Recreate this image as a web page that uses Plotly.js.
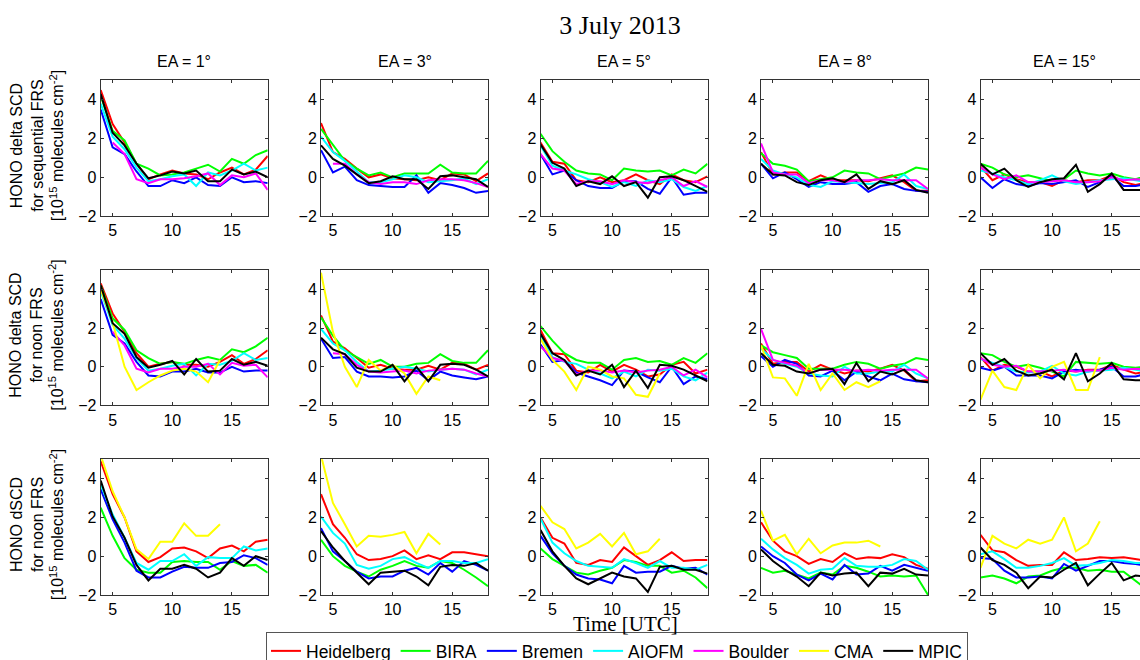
<!DOCTYPE html>
<html>
<head>
<meta charset="utf-8">
<script src="https://cdn.plot.ly/plotly-3.0.1.min.js"></script>
<style>
html,body{margin:0;padding:0;overflow:hidden;background:#fff;}
#chart{width:1150px;height:670px;}
</style>
</head>
<body>
<div id="chart"></div>
<script>
// ---------------- DATA ----------------
const HOURS = [4,5,6,7,8,9,10,11,12,13,14,15,16,17,18];
const XTICKS = [5,10,15];
const YTICKS = [-2,0,2,4];
const COLUMN_TITLES = ['EA = 1°','EA = 3°','EA = 5°','EA = 8°','EA = 15°'];
const ROW_TITLES = [
  'HONO delta SCD<br>for sequential FRS<br>[10<sup>15</sup> molecules cm<sup>-2</sup>]',
  'HONO delta SCD<br>for noon FRS<br>[10<sup>15</sup> molecules cm<sup>-2</sup>]',
  'HONO dSCD<br>for noon FRS<br>[10<sup>15</sup> molecules cm<sup>-2</sup>]'
];
const SERIES_NAMES = ['Heidelberg','BIRA','Bremen','AIOFM','Boulder','CMA','MPIC'];
const SERIES_COLORS = ['#ff0000','#00ff00','#0000ff','#00ffff','#ff00ff','#ffff00','#000000'];

// Row 1: HONO delta SCD for sequential FRS (one list per elevation angle)
const HEIDELBERG_SEQ = [
  [4.5,2.75,1.8,0.7,-0.1,0.15,0.35,0.2,0.15,-0.1,0.25,0.5,0.15,0.4,1.1],
  [2.8,1.3,0.95,0.45,0,0.15,-0.05,-0.1,-0.15,0,-0.15,0.2,0.15,-0.2,0.2],
  [1.8,0.8,0.7,-0.15,-0.25,0,-0.25,-0.15,0.15,-0.15,-0.35,0.15,-0.15,-0.25,0.05],
  [1.3,0.15,0.25,0.25,-0.2,0.1,-0.15,-0.15,-0.15,-0.2,-0.05,0.1,-0.25,-0.7,-0.7],
  [0.55,-0.15,0.15,-0.1,-0.25,-0.25,-0.45,-0.15,-0.25,-0.15,-0.15,0.1,-0.25,-0.4,-0.25]
];
const BIRA_SEQ = [
  [4.2,2.4,1.9,0.7,0.45,0.1,0.15,0.25,0.45,0.65,0.3,0.95,0.7,1.15,1.4],
  [2.5,1.65,0.85,0.45,0.1,0.25,0,0.2,0.2,0.2,0.65,0.25,0.2,0.2,0.85],
  [2.25,1.35,0.8,0.35,0.2,0.15,-0.15,0.45,0.35,0.3,0.35,0.1,0.4,0.2,0.7],
  [1.25,0.7,0.6,0.4,-0.2,-0.1,0,0.35,0.25,0.2,-0.1,0.05,0.2,0.5,0.4],
  [0.7,0.5,0.15,0,0.1,-0.05,-0.2,-0.1,0.35,0.2,0.1,0.2,0,-0.1,0.1]
];
const BREMEN_SEQ = [
  [3.5,1.55,1.2,0.3,-0.45,-0.45,-0.15,-0.3,0,-0.4,-0.45,0,-0.25,-0.2,-0.3],
  [1.4,0.25,0.55,-0.15,-0.4,-0.45,-0.5,-0.5,0.1,-0.8,-0.3,-0.4,-0.55,-0.8,-0.7],
  [1.2,0.15,0.35,-0.15,-0.45,-0.55,-0.55,-0.2,-0.2,-0.6,-0.85,0,-0.9,-0.8,-0.8],
  [0.7,-0.05,0.25,-0.1,-0.5,-0.25,-0.35,-0.35,-0.25,-0.75,-0.45,-0.35,-0.6,-0.7,-0.75],
  [0,-0.55,-0.1,-0.35,-0.45,-0.3,-0.35,-0.25,-0.15,-0.5,-0.25,0.05,-0.45,-0.45,-0.35]
];
const AIOFM_SEQ = [
  [3.8,2.1,1.45,0.5,-0.2,-0.1,0.05,0.15,-0.45,0.25,0.1,0.35,0.7,0.35,0.5],
  [2.1,1.3,0.85,0.3,-0.25,-0.25,-0.1,0.1,0,-0.25,-0.2,-0.15,-0.05,-0.35,-0.1],
  [1.65,0.6,0.35,0.15,-0.1,-0.25,-0.5,-0.25,-0.45,-0.15,-0.25,-0.1,-0.5,-0.7,-0.45],
  [0.95,0.35,0.15,0,-0.4,-0.5,-0.2,-0.25,-0.3,-0.35,-0.3,-0.25,0.15,-0.45,-0.6],
  [0.35,0.2,0,-0.15,-0.35,-0.15,0.1,-0.2,-0.35,-0.25,-0.15,-0.1,-0.05,-0.15,-0.25]
];
const BOULDER_SEQ = [
  [null,1.8,1.2,-0.1,-0.3,-0.1,-0.1,-0.05,0.05,0.2,-0.4,0.1,0,0.2,-0.65],
  [null,0.7,0.7,0.15,-0.25,-0.35,-0.25,-0.25,-0.35,-0.15,-0.1,-0.1,-0.15,-0.3,-0.5],
  [1.2,0.45,0.35,-0.35,-0.2,-0.2,-0.35,-0.15,-0.25,-0.3,-0.15,0,-0.45,-0.2,-0.5],
  [1.75,0.25,0.15,0.15,-0.3,-0.15,-0.15,-0.25,-0.15,-0.15,-0.1,-0.15,-0.15,-0.15,-0.6],
  [0.5,0.15,-0.1,0.1,-0.25,-0.25,-0.2,-0.15,-0.25,-0.25,-0.2,0,-0.15,-0.1,-0.15]
];
const MPIC_SEQ = [
  [4.3,2.3,1.65,0.7,-0.05,0.1,0.3,0.2,0.35,-0.2,-0.2,0.4,0.15,0.3,0],
  [1.65,0.95,0.6,0.15,-0.3,-0.2,0.05,-0.1,-0.1,-0.6,0.05,0.1,0,-0.1,-0.5],
  [1.7,0.75,0.45,-0.45,-0.2,-0.35,0.05,-0.45,-0.25,-1.05,0,0.05,-0.15,-0.45,-0.75],
  [0.7,0.15,0.1,-0.25,-0.4,-0.15,-0.05,-0.25,0.15,-0.6,-0.2,-0.35,-0.15,-0.65,-0.8],
  [0.7,0.15,0.45,-0.15,-0.5,-0.25,-0.1,-0.05,0.65,-0.75,-0.35,0.2,-0.65,-0.65,-0.65]
];

// Row 2: HONO delta SCD for noon FRS
const HEIDELBERG_NOON = [
  [4.3,2.75,1.8,0.7,0,0.15,0.25,0.1,0.1,0,0.25,0.6,0.15,0.4,0.85],
  [2.65,1.3,0.95,0.45,-0.05,0.1,-0.1,-0.15,-0.15,0.05,-0.15,0.2,0.15,-0.15,0.1],
  [1.9,0.7,0.65,-0.2,-0.3,0.1,-0.25,0.1,-0.15,-0.5,-0.4,0.1,0.25,-0.35,-0.15],
  [1.2,0.15,0.25,0.25,-0.25,0.1,-0.15,-0.35,-0.2,-0.25,-0.1,0.1,-0.2,-0.75,-0.7],
  [0.5,-0.2,0.1,0,-0.25,-0.25,-0.5,-0.2,-0.25,-0.15,-0.15,0.1,-0.15,-0.35,-0.25]
];
const BIRA_NOON = [
  [4.2,2.5,1.9,0.85,0.45,0.15,0.25,0.15,0.35,0.5,0.35,0.9,0.75,1.05,1.5],
  [2.55,1.6,0.85,0.5,0.15,0.35,0,0,0.15,0.2,0.65,0.3,0.2,0.2,0.85],
  [2.1,1.35,0.7,0.35,0.2,0.2,-0.15,0.35,0.45,0.25,0.3,0.1,0.45,0.2,0.7],
  [1.1,0.75,0.6,0.45,-0.1,-0.1,-0.1,0.1,0.25,0.15,-0.1,0.05,0.15,0.45,0.35],
  [0.7,0.6,0.25,0,0.1,-0.05,-0.25,-0.5,0.25,0.2,0.15,0.2,0,-0.05,0]
];
const BREMEN_NOON = [
  [3.5,1.65,1.2,0.25,-0.45,-0.5,-0.25,-0.25,-0.1,-0.3,-0.3,0,-0.25,-0.2,-0.2],
  [1.45,0.45,0.5,-0.25,-0.5,-0.5,-0.55,-0.5,-0.2,-0.7,-0.25,-0.45,-0.55,-0.65,-0.5],
  [1.15,0.25,0.35,-0.3,-0.5,-0.7,-0.95,-0.2,-0.25,-0.55,-0.8,0,-0.9,-0.5,-0.65],
  [0.55,0,0.35,0.15,-0.45,-0.5,-0.2,-0.7,-0.25,-0.5,-0.7,-0.35,-0.65,-0.75,-0.8],
  [-0.05,-0.2,0,-0.45,-0.45,-0.45,-0.6,-0.25,-0.15,-0.25,-0.15,0,-0.5,-0.5,-0.35]
];
const AIOFM_NOON = [
  [3.9,2.15,1.45,0.45,-0.2,-0.1,0.05,0.15,-0.45,0.15,0.1,0.3,0.7,0.35,0.45],
  [1.95,1.2,0.85,0.25,-0.25,-0.2,-0.1,0,-0.1,-0.25,-0.15,-0.1,-0.15,-0.4,-0.15],
  [1.65,0.5,0.25,0.15,-0.15,-0.35,-0.6,-0.25,-0.5,-0.15,-0.2,-0.1,-0.5,-0.7,-0.3],
  [0.95,0.35,0.15,0,-0.35,-0.45,-0.5,0,-0.35,-0.35,-0.25,-0.25,0.1,-0.35,-0.6],
  [0.4,0.2,0,-0.25,-0.3,-0.25,0.05,-0.35,-0.45,-0.25,-0.2,-0.15,-0.05,-0.15,-0.25]
];
const BOULDER_NOON = [
  [null,1.8,1.1,-0.1,-0.3,-0.1,-0.1,0,0,0.15,-0.4,0.2,0.05,0.1,-0.55],
  [null,0.7,0.65,0.1,-0.25,-0.3,-0.25,-0.2,-0.35,-0.2,-0.15,-0.1,-0.15,-0.35,-0.5],
  [1.05,0.45,0.3,-0.4,-0.2,-0.2,-0.3,-0.2,-0.3,-0.2,-0.15,0,-0.45,-0.15,-0.55],
  [1.95,0.35,0.2,0.05,-0.35,-0.15,-0.15,-0.15,-0.2,-0.15,-0.2,-0.15,-0.15,-0.15,-0.6],
  [0.45,0.1,0,0.05,-0.25,-0.25,-0.2,-0.15,-0.25,-0.2,-0.2,-0.05,-0.15,-0.1,-0.15]
];
const CMA_NOON = [
  [4.0,2.3,0,-1.2,-0.8,-0.45,-0.2,-0.1,-0.25,-0.8,0.35],
  [4.85,1.8,0,-1.05,0.35,-0.2,0.1,-0.35,-1.4,-0.5,-0.7],
  [1.45,0.35,-0.25,-1.2,0,-0.15,-0.5,-0.6,-1.45,-1.55,-0.35],
  [1.1,-0.55,-0.6,-1.5,0.15,-1.2,-0.35,-1.2,-0.8,-1.05,-0.75],
  [-1.7,-0.2,-1.05,-1.2,0.1,-0.6,0,0.25,-1.2,-1.2,0.5]
];
const MPIC_NOON = [
  [4.2,2.25,1.7,0.5,-0.05,0.1,0.3,-0.4,0.4,-0.25,-0.2,0.4,0.1,0.25,0.05],
  [1.5,0.9,0.65,-0.05,-0.25,-0.25,0.1,-0.75,0,-0.75,0.1,0.15,0.1,-0.15,-0.5],
  [1.7,0.7,0.35,-0.45,-0.2,-0.4,0.1,-1.05,-0.2,-1.1,0.1,0.05,-0.15,-0.45,-0.75],
  [0.7,0.1,0.05,-0.25,-0.35,-0.15,-0.1,-0.9,0.2,-0.75,-0.25,-0.4,-0.15,-0.7,-0.8],
  [0.7,0.1,0.4,-0.2,-0.45,-0.35,-0.15,-0.65,0.7,-0.75,-0.35,0.2,-0.65,-0.7,-0.7]
];

// Row 3: HONO dSCD for noon FRS
const HEIDELBERG_DSCD = [
  [4.9,3.2,2.0,0.25,-0.3,-0.05,0.4,0.45,0.25,-0.1,0.4,0.55,0.25,0.75,0.85],
  [3.2,1.65,0.95,0.1,-0.2,-0.15,0,0.3,-0.15,0.05,-0.15,0.2,0.2,0.1,0],
  [2.0,0.95,0.65,-0.35,-0.45,-0.2,-0.3,0.45,0,-0.45,-0.2,0.2,-0.25,-0.2,-0.2],
  [1.75,0.8,0.25,0,-0.4,-0.15,-0.3,0.15,-0.15,-0.05,-0.1,0.1,-0.05,-0.45,-0.65],
  [1.1,0.3,0.2,-0.2,-0.5,-0.45,-0.45,0.2,-0.2,-0.15,-0.05,-0.1,-0.05,-0.15,-0.25]
];
const BIRA_DSCD = [
  [2.5,1.05,-0.1,-0.7,-0.85,-0.85,-0.3,-0.25,-0.3,-0.3,-0.7,-0.25,-0.5,-0.45,-0.85],
  [0.85,0,-0.5,-0.8,-1.05,-0.7,-0.5,-0.25,-0.5,-0.6,-0.25,-0.35,-0.7,-1.1,-1.55],
  [0.4,-0.15,-0.5,-0.85,-0.95,-0.75,-0.6,-0.2,-0.3,-0.5,-0.5,-0.85,-0.75,-1.1,-1.65],
  [-0.6,-0.85,-0.75,-0.95,-1.15,-0.85,-0.95,-0.5,-0.6,-0.8,-1.05,-1.0,-1.05,-1.0,-2.0],
  [-1.1,-1.0,-1.15,-1.4,-1.05,-1.0,-0.75,-0.6,-0.6,-0.75,-0.7,-0.8,-0.8,-1.3,-1.75]
];
const BREMEN_DSCD = [
  [3.45,1.9,0.7,-0.75,-1.1,-1.1,-0.8,-0.55,-0.6,-0.6,-0.35,-0.3,0.05,-0.1,-0.45],
  [1.45,0.25,-0.25,-0.8,-1.15,-1.05,-1.05,-0.75,-0.6,-0.95,-0.35,-0.8,-0.25,-0.45,-0.75],
  [1.05,0.15,-0.5,-0.95,-1.15,-1.2,-1.4,-0.5,-0.85,-0.8,-0.8,-0.5,-0.65,-0.6,-0.95],
  [0.5,0,-0.35,-0.95,-1.25,-0.9,-1.2,-0.45,-0.95,-0.9,-0.5,-0.75,-0.45,-0.6,-0.75],
  [-0.1,-0.15,-0.75,-1.1,-1.1,-1.05,-1.15,-0.4,-0.75,-0.5,-0.25,-0.25,-0.35,-0.4,-0.5]
];
const AIOFM_DSCD = [
  [3.7,2.15,0.95,-0.35,-0.7,-0.25,-0.25,0.1,-0.5,-0.05,-0.1,-0.1,0.5,0.3,0.4],
  [2.05,1.2,0.65,-0.45,-0.65,-0.5,-0.15,-0.05,-0.35,-0.6,-0.25,-0.25,-0.35,-0.35,-0.15],
  [1.95,0.7,0.15,-0.25,-0.5,-0.55,-0.6,-0.15,-0.35,-0.6,-0.25,-0.6,-0.6,-0.7,-0.45],
  [0.9,0.35,-0.1,-0.45,-0.9,-0.7,-0.65,-0.1,-0.5,-0.55,-0.55,-0.45,-0.15,-0.25,-0.7],
  [0.1,0.25,-0.15,-0.6,-0.6,-0.5,-0.35,-0.1,-0.5,-0.45,-0.35,-0.2,-0.25,-0.35,-0.35]
];
const CMA_DSCD = [
  [5.2,3.35,2.0,0.35,-0.15,0.75,0.75,1.7,1.05,1.05,1.65],
  [5.2,2.75,1.65,0.5,1.05,1.0,1.1,1.25,0.15,1.15,0.6],
  [2.6,1.75,1.4,0.4,0.7,1.15,0.5,1.2,0.1,0.25,0.9],
  [2.35,0.8,1.1,0.1,0.9,0.15,0.55,0.7,0.7,0.8,0.5],
  [-0.6,1.05,0.65,0.4,0.85,0.65,0.85,2.0,0.25,0.65,1.8]
];
const MPIC_DSCD = [
  [3.9,2.05,0.95,-0.45,-1.25,-0.65,-0.65,-0.45,-0.65,-1.1,-0.85,-0.1,-0.5,0,-0.2],
  [1.3,0.45,-0.25,-0.85,-1.45,-0.85,-0.8,-0.75,-1.05,-1.5,-0.55,-0.45,-0.5,-0.35,-0.75],
  [1.35,0.25,-0.5,-1.15,-1.45,-1.15,-0.85,-1.05,-1.15,-1.85,-0.55,-0.5,-0.7,-0.7,-0.9],
  [0.35,-0.25,-0.7,-1.05,-1.55,-0.85,-1.0,-0.9,-0.85,-1.55,-0.85,-0.9,-0.65,-0.95,-1.0],
  [0.45,-0.2,-0.45,-0.85,-1.65,-1.05,-1.1,-0.7,-0.35,-1.5,-0.9,-0.35,-1.25,-1.0,-1.05]
];

// ---------------- BUILD ----------------
const ROW_DATA = [
  {Heidelberg:HEIDELBERG_SEQ, BIRA:BIRA_SEQ, Bremen:BREMEN_SEQ, AIOFM:AIOFM_SEQ, Boulder:BOULDER_SEQ, MPIC:MPIC_SEQ},
  {Heidelberg:HEIDELBERG_NOON, BIRA:BIRA_NOON, Bremen:BREMEN_NOON, AIOFM:AIOFM_NOON, Boulder:BOULDER_NOON, CMA:CMA_NOON, MPIC:MPIC_NOON},
  {Heidelberg:HEIDELBERG_DSCD, BIRA:BIRA_DSCD, Bremen:BREMEN_DSCD, AIOFM:AIOFM_DSCD, CMA:CMA_DSCD, MPIC:MPIC_DSCD}
];

const W = 1150, H = 670;
const COL_LEFT = [100.7, 321, 540.5, 761, 980.5];
const COL_W = 167;
const ROW_TOP = [80.7, 270.7, 460.7];
const ROW_H = 136;
const FONT = 'Liberation Sans, Arial, sans-serif';
const SERIF = 'Liberation Serif, Times New Roman, serif';

const traces = [];
const seen = {};
const layout = {
  width: W, height: H,
  margin: {l:0, r:0, t:0, b:0},
  paper_bgcolor: '#fff', plot_bgcolor: '#fff',
  showlegend: true,
  hovermode: false,
  title: {text: '3 July 2013', font: {family: SERIF, size: 26, color: '#000'},
          x: 620/W, xref: 'paper', xanchor: 'center', y: 1 - 25/H, yref: 'container', yanchor: 'middle'},
  legend: {orientation: 'h', x: 266/W, xanchor: 'left', y: 1 - 634/H, yanchor: 'top',
           bordercolor: '#555', borderwidth: 1, bgcolor: '#fff',
           font: {family: FONT, size: 17.5, color: '#000'}, itemwidth: 30, tracegroupgap: 0},
  annotations: []
};

for (let r = 0; r < 3; r++) {
  for (let c = 0; c < 5; c++) {
    const idx = r * 5 + c + 1;
    const xa = 'xaxis' + (idx === 1 ? '' : idx);
    const ya = 'yaxis' + (idx === 1 ? '' : idx);
    const xref = 'x' + (idx === 1 ? '' : idx);
    const yref = 'y' + (idx === 1 ? '' : idx);
    const common = {showline: true, mirror: 'ticks', linecolor: '#333', linewidth: 1,
      ticks: 'inside', ticklen: 3, tickcolor: '#333', showgrid: false, zeroline: false,
      tickfont: {family: FONT, size: 16, color: '#000'}, fixedrange: true};
    layout[xa] = Object.assign({}, common, {
      domain: [COL_LEFT[c] / W, (COL_LEFT[c] + COL_W) / W],
      range: [4, 18], tickvals: XTICKS, anchor: yref});
    layout[ya] = Object.assign({}, common, {
      domain: [1 - (ROW_TOP[r] + ROW_H) / H, 1 - ROW_TOP[r] / H],
      range: [-2, 5], tickvals: YTICKS, anchor: xref});
    SERIES_NAMES.forEach((name, si) => {
      const arr = ROW_DATA[r][name];
      if (!arr) return;
      const first = !seen[name];
      seen[name] = true;
      traces.push({
        type: 'scatter', mode: 'lines', name: name,
        x: HOURS, y: arr[c], xaxis: xref, yaxis: yref,
        line: {color: SERIES_COLORS[si], width: 2},
        legendgroup: name, showlegend: first, legendrank: si + 1,
        connectgaps: false
      });
    });
  }
}

// Column titles
COLUMN_TITLES.forEach((t, c) => {
  layout.annotations.push({text: t, xref: 'paper', yref: 'paper',
    x: (COL_LEFT[c] + COL_W / 2) / W, y: 1 - 62 / H, xanchor: 'center', yanchor: 'middle',
    showarrow: false, font: {family: FONT, size: 16, color: '#000'}});
});
// Row (y-axis) titles
ROW_TITLES.forEach((t, r) => {
  layout.annotations.push({text: t, xref: 'paper', yref: 'paper',
    x: 37 / W, y: 1 - (ROW_TOP[r] + ROW_H / 2 - 2) / H, xanchor: 'center', yanchor: 'middle',
    textangle: -90, showarrow: false, font: {family: FONT, size: 16, color: '#000'}});
});
// x-axis title
layout.annotations.push({text: 'Time [UTC]', xref: 'paper', yref: 'paper',
  x: 625 / W, y: 1 - 626 / H, xanchor: 'center', yanchor: 'middle', showarrow: false,
  font: {family: SERIF, size: 21, color: '#000'}});

Plotly.newPlot('chart', traces, layout, {displayModeBar: false, staticPlot: true});
</script>
</body>
</html>
